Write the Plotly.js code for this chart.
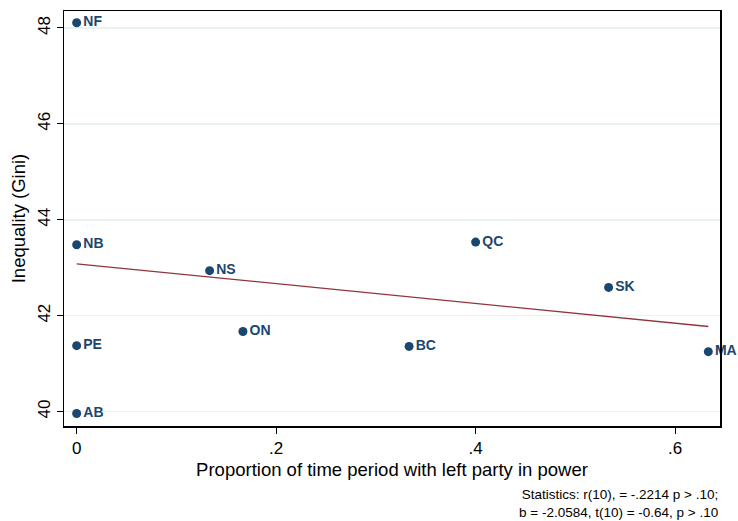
<!DOCTYPE html>
<html>
<head>
<meta charset="utf-8">
<script src="https://cdn.plot.ly/plotly-3.0.1.min.js"></script>
<style>html,body{margin:0;padding:0;background:#fff;}#chart{width:738px;height:521px;}</style>
</head>
<body>
<div id="chart"></div>
<script>
const provinces = ["NF","NB","PE","AB","NS","ON","BC","QC","SK","MA"];
const leftShare = [0, 0, 0, 0, 0.1333, 0.1667, 0.3333, 0.4, 0.5333, 0.6333];
const gini = [48.11, 43.48, 41.375, 39.96, 42.94, 41.67, 41.36, 43.535, 42.59, 41.25];
const xTickVals = [0, 0.2, 0.4, 0.6];
const xTickText = ["0", ".2", ".4", ".6"];
const yTickVals = [40, 42, 44, 46, 48];
const statsText = "Statistics: r(10), = -.2214 p > .10;<br>b = -2.0584, t(10) = -0.64, p > .10";

// least-squares fit computed from the data
const n = leftShare.length;
const mx = leftShare.reduce((a,b)=>a+b,0)/n;
const my = gini.reduce((a,b)=>a+b,0)/n;
let sxy=0, sxx=0;
for (let i=0;i<n;i++){ sxy += (leftShare[i]-mx)*(gini[i]-my); sxx += (leftShare[i]-mx)**2; }
const slope = sxy/sxx, icpt = my - slope*mx;
const fx = [Math.min(...leftShare), Math.max(...leftShare)];
const fy = fx.map(x => icpt + slope*x);

const FONT = "Liberation Sans, Arial, Helvetica, sans-serif";
const navy = "#1a476f";

const traces = [
  {x: fx, y: fy, mode: "lines", type: "scatter", line: {color: "#90353b", width: 1.3}, hoverinfo: "skip"},
  {x: leftShare, y: gini, text: provinces, mode: "markers+text", type: "scatter",
   textposition: "middle right", cliponaxis: false,
   marker: {color: navy, size: 9},
   textfont: {family: FONT, size: 14, color: navy, weight: "bold"}}
];

const layout = {
  width: 738, height: 521,
  margin: {l: 64, r: 18, t: 11, b: 95},
  paper_bgcolor: "#fff", plot_bgcolor: "#fff",
  showlegend: false,
  font: {family: FONT, color: "#000"},
  xaxis: {
    range: [-0.0127, 0.645], tickvals: xTickVals, ticktext: xTickText,
    ticks: "outside", ticklen: 6, tickcolor: "#000", tickwidth: 1,
    showgrid: false, zeroline: false,
    showline: true, linecolor: "#000", linewidth: 1.5, mirror: true,
    tickfont: {size: 17, color: "#000"},
    title: {text: "Proportion of time period with left party in power", font: {size: 18.5, color: "#000"}, standoff: 6}
  },
  yaxis: {
    range: [39.70, 48.354], tickvals: yTickVals,
    ticks: "outside", ticklen: 6, tickcolor: "#000", tickwidth: 1,
    tickangle: -90,
    showgrid: true, gridcolor: "#eaf2f3", gridwidth: 1.5, zeroline: false,
    showline: true, linecolor: "#000", linewidth: 1.5, mirror: true,
    tickfont: {size: 17, color: "#000"},
    title: {text: "Inequality (Gini)", font: {size: 18.5, color: "#000"}, standoff: 4}
  },
  annotations: [{
    xref: "paper", yref: "paper", x: 1.0, y: -0.142, xanchor: "right", yanchor: "top",
    text: statsText, showarrow: false, align: "right",
    font: {family: FONT, size: 13.5, color: "#000"}
  }]
};

Plotly.newPlot("chart", traces, layout, {displayModeBar: false, staticPlot: true});
</script>
</body>
</html>
